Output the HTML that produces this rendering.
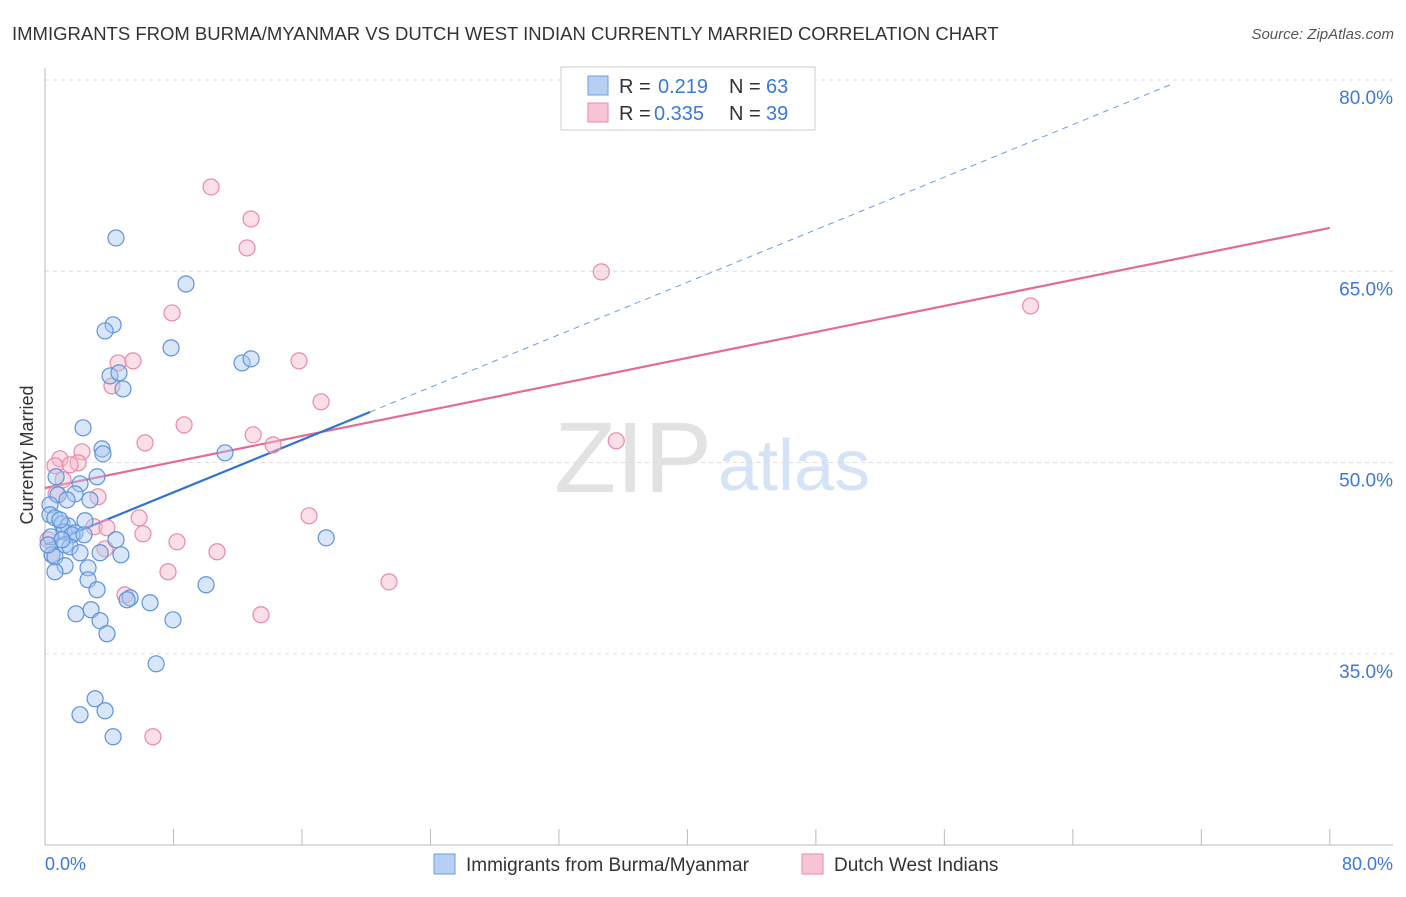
<!DOCTYPE html>
<html><head><meta charset="utf-8"><style>
body{margin:0;background:#fff;font-family:"Liberation Sans",sans-serif;}
svg text{font-family:"Liberation Sans",sans-serif;}
</style></head><body>
<svg id="chart" width="1406" height="892" xmlns="http://www.w3.org/2000/svg">
<text x="12" y="40" font-size="18.5" fill="#333">IMMIGRANTS FROM BURMA/MYANMAR VS DUTCH WEST INDIAN CURRENTLY MARRIED CORRELATION CHART</text>
<text x="1394" y="39" font-size="15" fill="#555" font-style="italic" text-anchor="end">Source: ZipAtlas.com</text>
<text x="712" y="492" font-size="100" fill="#e2e2e2" text-anchor="end" font-family="Liberation Serif" textLength="158" lengthAdjust="spacingAndGlyphs">ZIP</text>
<text x="718" y="490" font-size="72" fill="#d4e3f5">atlas</text>
<g id="grid"></g><g id="axes"></g><g id="lines"></g><g id="points"></g>
<text transform="translate(33,455) rotate(-90)" font-size="18" fill="#333" text-anchor="middle">Currently Married</text>
<text x="45" y="870" font-size="18" fill="#3b78d8">0.0%</text>
<text x="1393" y="870" font-size="18" fill="#3b78d8" text-anchor="end">80.0%</text>
<g>
<rect x="561" y="67" width="254" height="63" fill="#fff" stroke="#ccc"/>
<rect x="588" y="76" width="20" height="19" fill="#b5d0f3" stroke="#6a9de0"/>
<rect x="588" y="103" width="20" height="19" fill="#f9c5d5" stroke="#e88aa8"/>
<text x="619" y="93" font-size="20" fill="#333">R = <tspan x="658" fill="#3b78d8">0.219</tspan><tspan x="729">N = </tspan><tspan x="766" fill="#3b78d8">63</tspan></text>
<text x="619" y="120" font-size="20" fill="#333">R = <tspan x="654" fill="#3b78d8">0.335</tspan><tspan x="729">N = </tspan><tspan x="766" fill="#3b78d8">39</tspan></text>
</g>
<g>
<rect x="434" y="854" width="21" height="20" fill="#b5d0f3" stroke="#6a9de0"/>
<text x="466" y="871" font-size="19" fill="#333">Immigrants from Burma/Myanmar</text>
<rect x="802" y="854" width="21" height="20" fill="#f9c5d5" stroke="#e88aa8"/>
<text x="834" y="871" font-size="19" fill="#333">Dutch West Indians</text>
</g>
</svg>
<script>
const yTicks=[35,50,65,80];
const yTickLabels=["35.0%","50.0%","65.0%","80.0%"];
const xTicks=[0,8,16,24,32,40,48,56,64,72,80];
const blueX=[4.42,8.78,4.24,3.74,7.85,12.27,12.83,4.05,4.61,4.86,2.37,3.55,3.61,11.21,0.69,3.24,2.18,1.87,0.81,2.80,1.37,0.31,0.31,0.62,2.49,1.06,1.43,1.18,1.87,1.68,2.43,0.37,4.42,17.51,1.25,1.56,2.18,3.43,4.73,0.44,0.62,2.68,1.25,0.62,2.68,3.24,10.03,6.54,5.30,5.11,1.93,2.87,3.43,7.97,3.86,6.92,3.12,3.74,2.18,4.24,0.93,1.06,0.19];
const blueY=[67.61,64.0,60.8,60.32,58.99,57.81,58.13,56.79,57.03,55.77,52.72,51.07,50.68,50.76,48.88,48.88,48.33,47.54,47.46,47.07,47.07,46.68,45.9,45.66,45.43,45.19,45.03,44.56,44.48,44.33,44.33,44.17,43.94,44.09,43.54,43.39,42.92,42.92,42.76,42.76,42.6,41.74,41.9,41.43,40.8,40.02,40.41,39.0,39.39,39.23,38.13,38.45,37.59,37.66,36.57,34.21,31.47,30.53,30.22,28.49,45.5,43.94,43.54];
const pinkX=[10.34,12.83,12.58,34.64,61.37,7.91,4.55,5.48,15.82,4.17,17.19,8.66,6.23,12.96,14.2,35.57,2.3,0.93,2.06,1.56,0.62,1.12,3.3,0.69,3.05,3.86,5.86,6.1,8.22,16.44,3.74,10.71,7.66,4.98,21.42,13.45,6.72,0.19,0.44];
const pinkY=[71.61,69.1,66.83,64.95,62.28,61.73,57.81,57.97,57.97,56.01,54.76,52.95,51.54,52.17,51.38,51.7,50.84,50.29,49.97,49.82,49.74,48.64,47.31,47.54,44.96,44.88,45.66,44.41,43.78,45.82,43.23,43.0,41.43,39.62,40.64,38.06,28.49,43.94,42.76];
const blueFit=[43.54,0.515]; const blueSolidEnd=20.24; const blueDashEnd=70.05;
const pinkFit=[48.0,0.255];
const X=v=>45+v*16.06, Y=v=>80+(80-v)*12.75;
const NS="http://www.w3.org/2000/svg";
function mk(tag,attrs,parent){const e=document.createElementNS(NS,tag);for(const k in attrs)e.setAttribute(k,attrs[k]);document.getElementById(parent).appendChild(e);return e;}
yTicks.forEach((t,i)=>{
 const l=mk('line',{x1:45,x2:1393,y1:Y(t),y2:Y(t),stroke:'#ddd','stroke-dasharray':'4,4'},'grid');
 
 
 const tx=mk('text',{x:1393,y:Y(t)+24,'font-size':19,fill:'#3b78d8','text-anchor':'end'},'grid');
 tx.textContent=yTickLabels[i];
 
 
});
let a=mk('line',{x1:45,x2:45,y1:68,y2:845,stroke:'#bbb'},'axes');


a=mk('line',{x1:45,x2:1393,y1:845,y2:845,stroke:'#bbb'},'axes');


xTicks.forEach(t=>{const k=mk('line',{x1:X(t),x2:X(t),y1:829,y2:845,stroke:'#bbb'},'axes');
 
 });
function dot(x,y,f,s,n){const c=mk('circle',{cx:X(x),cy:Y(y),r:8,fill:f,'fill-opacity':0.45,stroke:s,'stroke-width':1.2},'points');
 
 }
pinkX.forEach((x,i)=>dot(x,pinkY[i],'#f6b8cb','#e88aa8','dutch-point'));
blueX.forEach((x,i)=>dot(x,blueY[i],'#a9c8f0','#5d93dc','burma-point'));
let ln=mk('line',{x1:X(0),y1:Y(pinkFit[0]),x2:X(80),y2:Y(pinkFit[0]+pinkFit[1]*80),stroke:'#e36b95','stroke-width':2.2},'lines');


ln=mk('line',{x1:X(0),y1:Y(blueFit[0]),x2:X(blueSolidEnd),y2:Y(blueFit[0]+blueFit[1]*blueSolidEnd),stroke:'#2f74d0','stroke-width':2.2},'lines');


ln=mk('line',{x1:X(blueSolidEnd),y1:Y(blueFit[0]+blueFit[1]*blueSolidEnd),x2:X(blueDashEnd),y2:Y(blueFit[0]+blueFit[1]*blueDashEnd),stroke:'#6a9de0','stroke-width':1,'stroke-dasharray':'6,5'},'lines');


</script>
</body></html>
